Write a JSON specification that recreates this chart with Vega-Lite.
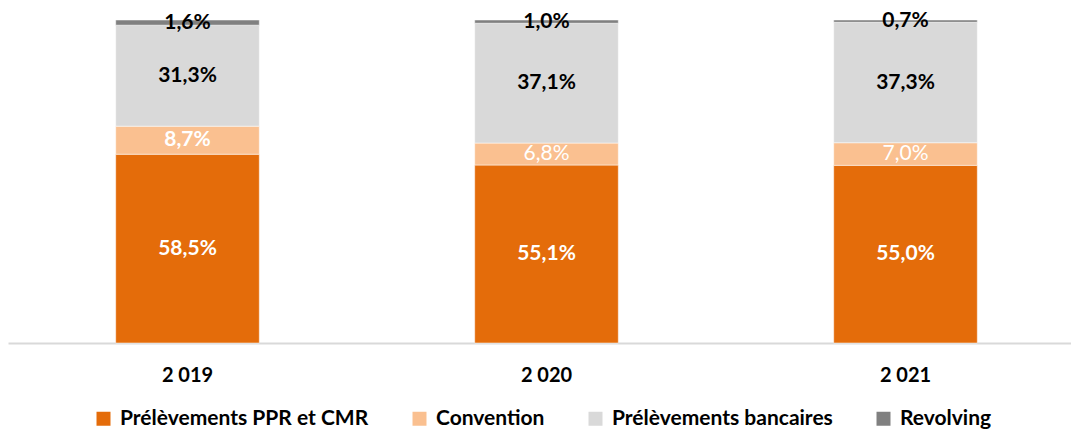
{
  "$schema": "https://vega.github.io/schema/vega-lite/v6.json",
  "width": 1077,
  "height": 323,
  "autosize": {"type": "none"},
  "padding": {"left": 8, "top": 20, "right": 0, "bottom": 86},
  "background": "white",
  "config": {"view": {"stroke": null}, "font": "Lato"},
  "data": {"values": [
    {"annee": "2 019", "type": "Prélèvements PPR et CMR", "ordre": 1, "part": 58.5, "label": "58,5%"},
    {"annee": "2 019", "type": "Convention", "ordre": 2, "part": 8.7, "label": "8,7%"},
    {"annee": "2 019", "type": "Prélèvements bancaires", "ordre": 3, "part": 31.3, "label": "31,3%"},
    {"annee": "2 019", "type": "Revolving", "ordre": 4, "part": 1.6, "label": "1,6%"},
    {"annee": "2 020", "type": "Prélèvements PPR et CMR", "ordre": 1, "part": 55.1, "label": "55,1%"},
    {"annee": "2 020", "type": "Convention", "ordre": 2, "part": 6.8, "label": "6,8%"},
    {"annee": "2 020", "type": "Prélèvements bancaires", "ordre": 3, "part": 37.1, "label": "37,1%"},
    {"annee": "2 020", "type": "Revolving", "ordre": 4, "part": 1.0, "label": "1,0%"},
    {"annee": "2 021", "type": "Prélèvements PPR et CMR", "ordre": 1, "part": 55.0, "label": "55,0%"},
    {"annee": "2 021", "type": "Convention", "ordre": 2, "part": 7.0, "label": "7,0%"},
    {"annee": "2 021", "type": "Prélèvements bancaires", "ordre": 3, "part": 37.3, "label": "37,3%"},
    {"annee": "2 021", "type": "Revolving", "ordre": 4, "part": 0.7, "label": "0,7%"}
  ]},
  "transform": [
    {"stack": "part", "groupby": ["annee"], "sort": [{"field": "ordre", "order": "ascending"}], "offset": "normalize", "as": ["y0", "y1"]},
    {"calculate": "(datum.y0 + datum.y1) / 2", "as": "ymid"}
  ],
  "encoding": {
    "x": {
      "field": "annee", "type": "nominal", "title": null,
      "scale": {"paddingInner": 0.6, "paddingOuter": 0.3},
      "axis": {"labelAngle": 0, "ticks": false, "domainColor": "#D9D9D9", "domainWidth": 2, "labelFont": "Lato", "labelFontWeight": "bold", "labelFontSize": 20, "labelColor": "#000000", "labelPadding": 22}
    }
  },
  "layer": [
    {
      "mark": {"type": "bar", "stroke": "white", "strokeWidth": 0.5},
      "encoding": {
        "y": {"field": "y0", "type": "quantitative", "scale": {"domain": [0, 1]}, "axis": null},
        "y2": {"field": "y1"},
        "color": {
          "field": "type", "type": "nominal", "title": null,
          "scale": {"domain": ["Prélèvements PPR et CMR", "Convention", "Prélèvements bancaires", "Revolving"], "range": ["#E46C0A", "#FAC090", "#D9D9D9", "#808080"]},
          "legend": {"orient": "none", "legendX": 85, "legendY": 388, "direction": "horizontal", "symbolType": "square", "symbolSize": 196, "symbolStrokeWidth": 0, "labelFont": "Lato", "labelFontSize": 21, "labelFontWeight": "bold", "labelColor": "#000000", "columnPadding": 40, "labelOffset": 6, "labelLimit": 400}
        }
      }
    },
    {
      "transform": [{"filter": "!(datum.type === 'Convention' && datum.annee !== '2 019')"}],
      "mark": {"type": "text", "fontWeight": "bold", "fontSize": 21, "baseline": "middle", "align": "center"},
      "encoding": {
        "y": {"field": "ymid", "type": "quantitative"},
        "text": {"field": "label"},
        "color": {"condition": {"test": "datum.ordre <= 2", "value": "white"}, "value": "black"}
      }
    },
    {
      "transform": [{"filter": "datum.type === 'Convention' && datum.annee !== '2 019'"}],
      "mark": {"type": "text", "fontWeight": "normal", "fontSize": 21, "baseline": "middle", "align": "center", "color": "white"},
      "encoding": {
        "y": {"field": "ymid", "type": "quantitative"},
        "text": {"field": "label"}
      }
    }
  ]
}
